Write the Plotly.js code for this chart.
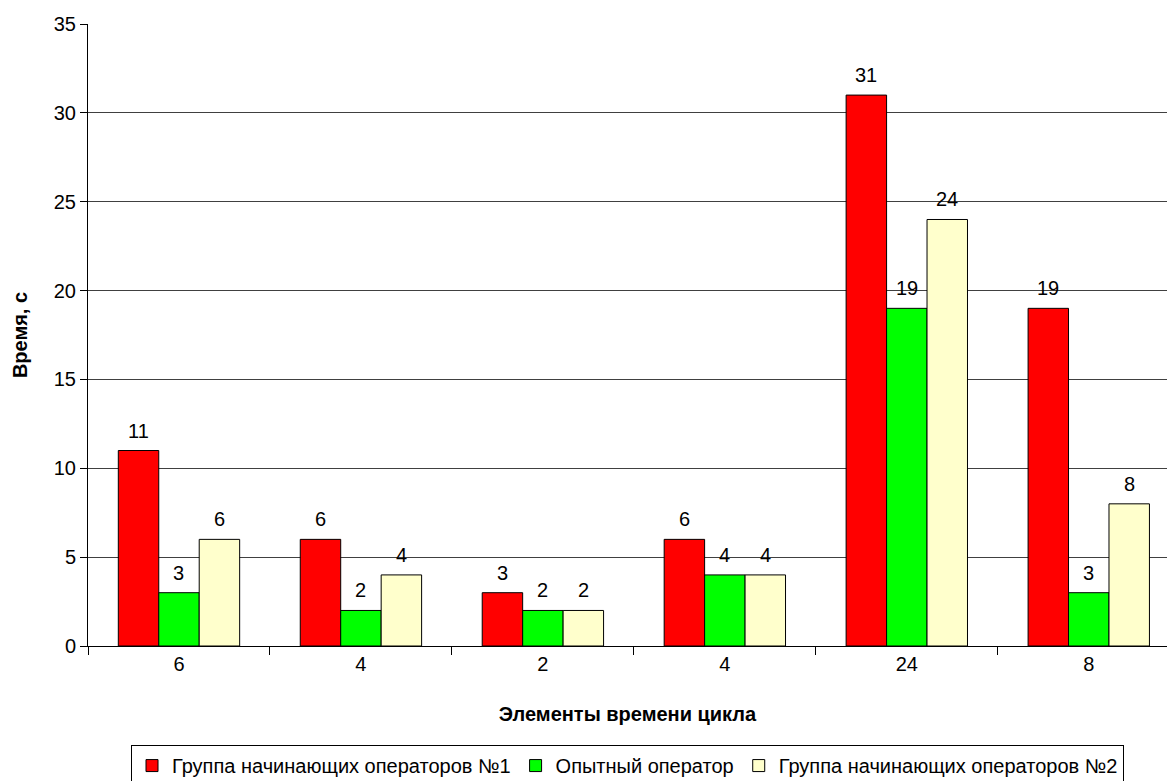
<!DOCTYPE html>
<html>
<head>
<meta charset="utf-8">
<script src="https://cdn.plot.ly/plotly-3.0.1.min.js"></script>
<style>html,body{margin:0;padding:0;background:#fff;}#chart{width:1167px;height:781px;}</style>
</head>
<body>
<div id="chart"></div>
<script>
var categories = ["6", "4", "2", "4", "24", "8"];
var seriesNames = ["Группа начинающих операторов №1", "Опытный оператор", "Группа начинающих операторов №2"];
var group1 = [11, 6, 3, 6, 31, 19];
var experienced = [3, 2, 2, 4, 19, 3];
var group2 = [6, 4, 2, 4, 24, 8];
var colors = ["#FF0000", "#00FF00", "#FFFFCC"];

var FONT = "Liberation Sans, Arial, sans-serif";
var positions = categories.map(function (c, i) { return i; });
var seriesValues = [group1, experienced, group2];

var traces = seriesValues.map(function (vals, k) {
  return {
    type: "bar",
    name: seriesNames[k],
    x: positions,
    y: vals,
    marker: { color: colors[k], line: { color: "#000", width: 1 } },
    hoverinfo: "y"
  };
});

var bargap = 0.333;
var barW = (1 - bargap) / 3;
var annotations = [];
seriesValues.forEach(function (vals, k) {
  vals.forEach(function (v, i) {
    annotations.push({
      x: positions[i] + (k - 1) * barW,
      y: v,
      xref: "x", yref: "y",
      text: String(v),
      showarrow: false,
      yanchor: "bottom",
      yshift: 7,
      font: { family: FONT, size: 20, color: "#000" }
    });
  });
});

var layout = {
  width: 1167, height: 781,
  margin: { l: 88, r: 0, t: 24, b: 135, autoexpand: false },
  paper_bgcolor: "#fff", plot_bgcolor: "#fff",
  barmode: "group", bargap: bargap, bargroupgap: 0,
  font: { family: FONT, size: 20, color: "#000" },
  showlegend: true,
  legend: {
    orientation: "h", x: 0.5, xanchor: "center",
    yref: "container", y: 0.046, yanchor: "top",
    bordercolor: "#000", borderwidth: 1, font: { family: FONT, size: 20, color: "#000" },
    itemwidth: 30, traceorder: "normal"
  },
  xaxis: {
    range: [-0.5, 5.43],
    tickmode: "array", tickvals: positions, ticktext: categories,
    ticks: "", showgrid: false, zeroline: false,
    showline: true, linecolor: "#000", linewidth: 1,
    minor: { ticks: "outside", ticklen: 8, tick0: -0.5, dtick: 1, tickcolor: "#000", showgrid: false },
    tickfont: { family: FONT, size: 20, color: "#000" },
    title: { text: "<b>Элементы времени цикла</b>", font: { family: FONT, size: 20, color: "#000" }, standoff: 32 },
    fixedrange: true
  },
  yaxis: {
    range: [0, 35], dtick: 5, tick0: 0,
    ticks: "outside", ticklen: 7, tickcolor: "#000",
    showgrid: true, gridcolor: "#404040", gridwidth: 1,
    zeroline: false, showline: true, linecolor: "#000", linewidth: 1,
    tickfont: { family: FONT, size: 20, color: "#000" },
    title: { text: "<b>Время, с</b>", font: { family: FONT, size: 20, color: "#000" }, standoff: 20 },
    fixedrange: true
  },
  annotations: annotations
};

Plotly.newPlot("chart", traces, layout, { displayModeBar: false, staticPlot: true });
</script>
</body>
</html>
